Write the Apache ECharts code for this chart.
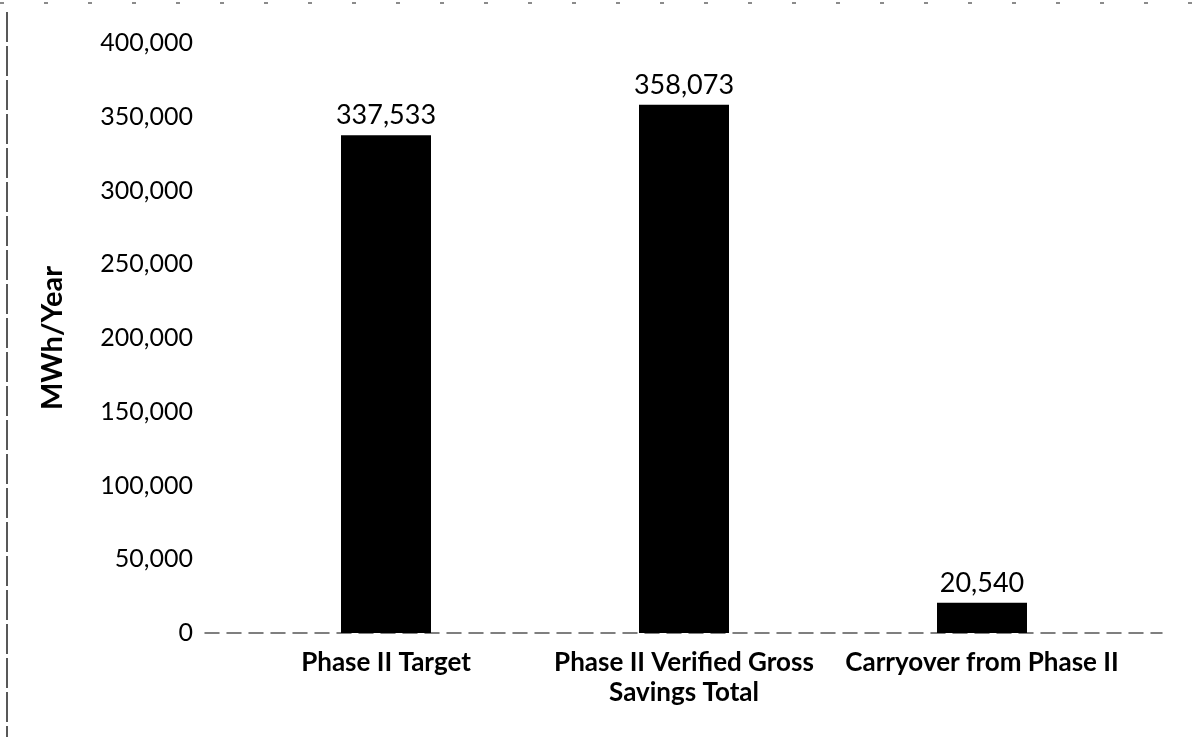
<!DOCTYPE html>
<html><head><meta charset="utf-8">
<script src="https://cdn.jsdelivr.net/npm/echarts@6/dist/echarts.min.js"></script>
<style>html,body{margin:0;padding:0;background:#fff}#c{width:1192px;height:737px}</style>
</head><body><div id="c"></div>
<script>
const categories = ["Phase II Target", "Phase II Verified Gross\nSavings Total", "Carryover from Phase II"];
const values = [337533, 358073, 20540];
const yMin = 0, yMax = 400000, yStep = 50000;
const yAxisName = "MWh/Year";

const font = "Lato, 'Open Sans', sans-serif";
const chart = echarts.init(document.getElementById('c'));
chart.setOption({
  backgroundColor: '#fff',
  animation: false,
  grid: [
    {left: 237, right: 61, top: 43, bottom: 104},
    {left: 205, right: 30, top: 43, bottom: 104}
  ],
  xAxis: [
    {type: 'category', data: categories, gridIndex: 0,
     axisLine: {show: false}, axisTick: {show: false},
     axisLabel: {fontFamily: font, fontWeight: 'bold', fontSize: 26, color: '#000', margin: 15, lineHeight: 30, interval: 0}},
    {type: 'value', gridIndex: 1, min: 0, max: 1, show: true,
     axisLine: {show: true, lineStyle: {color: '#555', type: [14, 8], width: 1.5}},
     axisTick: {show: false}, axisLabel: {show: false}, splitLine: {show: false}}
  ],
  yAxis: [
    {type: 'value', gridIndex: 0, min: yMin, max: yMax, interval: yStep,
     name: yAxisName, nameLocation: 'middle', nameGap: 170,
     nameTextStyle: {fontFamily: font, fontWeight: 'bold', fontSize: 29, color: '#000'},
     axisLine: {show: false}, axisTick: {show: false}, splitLine: {show: false},
     axisLabel: {fontFamily: font, fontSize: 25, color: '#000', margin: 44,
       formatter: v => v.toLocaleString('en-US')}},
    {type: 'value', gridIndex: 1, show: false}
  ],
  series: [{
    type: 'bar', data: values, xAxisIndex: 0, yAxisIndex: 0,
    barWidth: 90, itemStyle: {color: '#000'},
    label: {show: true, position: 'top', distance: 6, fontFamily: font, fontSize: 27, color: '#000',
      formatter: p => p.value.toLocaleString('en-US')}
  }],
  graphic: [
    {type: 'line', shape: {x1: 7, y1: 12, x2: 7, y2: 737}, style: {stroke: '#222', lineWidth: 1.5, lineDash: [30, 4]}},
    {type: 'line', shape: {x1: 0, y1: 3, x2: 1192, y2: 3}, style: {stroke: '#666', lineWidth: 1.5, lineDash: [4, 40]}}
  ]
});
</script></body></html>
